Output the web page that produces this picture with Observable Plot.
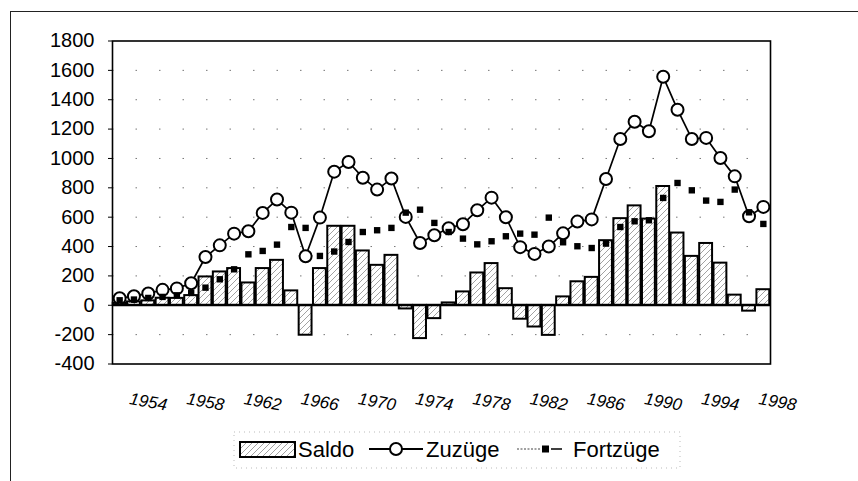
<!DOCTYPE html>
<html>
<head>
<meta charset="utf-8">
<script src="https://cdn.jsdelivr.net/npm/d3@7"></script>
<script src="https://cdn.jsdelivr.net/npm/@observablehq/plot@0.6"></script>
<style>
  html, body { margin: 0; padding: 0; background: #fff; }
  #wrap { position: relative; width: 858px; height: 481px; overflow: hidden; background: #fff; font-family: "Liberation Sans", Arial, sans-serif; }
  #chart { position: absolute; left: 0; top: 0; z-index: 1; }
  #legend { position: absolute; left: 0; top: 425px; z-index: 1; }
  #borderTop { position: absolute; left: 10px; top: 11px; width: 848px; height: 0; border-top: 1.5px solid #222; z-index: 5; }
  #borderLeft { position: absolute; left: 10px; top: 11px; width: 0; height: 470px; border-left: 1.5px solid #222; z-index: 5; }
</style>
</head>
<body>
<div id="wrap">
  <div id="chart"></div>
  <div id="legend"></div>
  <div id="borderTop"></div>
  <div id="borderLeft"></div>
</div>
<script>
// Categories (years as placed on the reference's axis)
const years = [1952, 1953, 1954, 1955, 1956, 1957, 1958, 1959, 1960, 1961,
  1962, 1963, 1964, 1965, 1966, 1967, 1968, 1969, 1970, 1971,
  1972, 1973, 1974, 1975, 1976, 1977, 1978, 1979, 1980, 1981,
  1982, 1983, 1984, 1985, 1986, 1987, 1988, 1989, 1990, 1991,
  1992, 1993, 1994, 1995, 1996, 1997];

// Saldo (bars), in thousands
const saldo = [14, 23, 30, 48, 47, 66, 193, 227, 250, 152,
  250, 306, 98, -204, 250, 538, 538, 370, 272, 340,
  -25, -227, -91, 16, 91, 220, 284, 113, -95, -148,
  -205, 57, 160, 190, 440, 590, 677, 587, 809, 492,
  333, 421, 287, 69, -40, 106];

// Zuzüge (line with open circles)
const zuzuege = [48, 62, 80, 105, 115, 150, 329, 408, 488, 504,
  629, 720, 631, 334, 597, 910, 976, 869, 788, 863,
  602, 424, 477, 525, 552, 647, 733, 600, 396, 350,
  400, 490, 570, 585, 860, 1133, 1250, 1185, 1556, 1332,
  1133, 1140, 1003, 878, 606, 670];

// Fortzüge (filled squares)
const fortzuege = [34, 39, 50, 57, 68, 84, 120, 177, 245, 347,
  370, 413, 533, 527, 336, 366, 431, 499, 511, 527,
  631, 651, 561, 499, 454, 415, 436, 470, 488, 481,
  597, 429, 402, 390, 420, 533, 572, 579, 731, 833,
  783, 713, 704, 788, 633, 554];

// Tick labels
const xTicks = [1954, 1958, 1962, 1966, 1970, 1974, 1978, 1982, 1986, 1990, 1994, 1998];
const yTicks = [-400, -200, 0, 200, 400, 600, 800, 1000, 1200, 1400, 1600, 1800];
const gridVals = [-200, 200, 400, 600, 800, 1000, 1200, 1400, 1600];

// Legend labels
const legendLabels = ["Saldo", "Zuzüge", "Fortzüge"];

const table = years.map((year, i) => ({
  year, saldo: saldo[i], zuzuege: zuzuege[i], fortzuege: fortzuege[i]
}));

const FONT = "'Liberation Sans', Arial, Helvetica, sans-serif";

const chart = Plot.plot({
  width: 858,
  height: 425,
  marginTop: 40.5,
  marginBottom: 61.5,
  marginLeft: 112,
  marginRight: 88,
  style: { fontFamily: FONT, color: "black", background: "white", overflow: "visible" },
  x: { domain: [1951.5, 1997.5], axis: null, label: null },
  y: { domain: [-400, 1800], axis: null, label: null },
  marks: [
    Plot.ruleY(gridVals, { stroke: "#777", strokeWidth: 1, strokeDasharray: "1.5,22" }),
    Plot.rectY(table, {
      x1: d => d.year - 0.45, x2: d => d.year + 0.45,
      y1: 0, y2: "saldo",
      fill: "url(#hatch)", stroke: "black", strokeWidth: 2
    }),
    Plot.ruleY([0], { stroke: "black", strokeWidth: 2 }),
    Plot.line(table, { x: "year", y: "zuzuege", stroke: "black", strokeWidth: 1.7 }),
    Plot.dot(table, { x: "year", y: "zuzuege", r: 6, fill: "white", stroke: "black", strokeWidth: 2 }),
    Plot.dot(table, { x: "year", y: "fortzuege", symbol: "square", r: 3.6, fill: "black" }),
    Plot.frame({ stroke: "black", strokeWidth: 1.6 }),
    Plot.axisY(yTicks, {
      anchor: "left", tickSize: 4, tickPadding: 14, fontSize: 20, stroke: "black",
      tickFormat: d => String(d), label: null
    }),
    Plot.axisX(xTicks, {
      anchor: "bottom", tickSize: 0, tickPadding: 38, tickRotate: 10,
      textAnchor: "middle", fontStyle: "italic", fontSize: 17,
      tickFormat: d => String(d), label: null
    })
  ]
});

// hatch pattern for bars
d3.select(chart).insert("defs", ":first-child").html(`
  <pattern id="hatch" patternUnits="userSpaceOnUse" width="6" height="6">
    <rect width="6" height="6" fill="white"/>
    <path d="M0,6 L6,0 M-1.5,1.5 L1.5,-1.5 M4.5,7.5 L7.5,4.5" stroke="#8a8a8a" stroke-width="0.8"/>
  </pattern>`);

document.getElementById("chart").appendChild(chart);

// Legend (below the chart)
const lg = d3.select("#legend").append("svg")
  .attr("width", 858).attr("height", 56)
  .style("font-family", FONT);
lg.append("defs").html(`
  <pattern id="hatchL" patternUnits="userSpaceOnUse" width="6" height="6">
    <rect width="6" height="6" fill="white"/>
    <path d="M0,6 L6,0 M-1.5,1.5 L1.5,-1.5 M4.5,7.5 L7.5,4.5" stroke="#8a8a8a" stroke-width="0.8"/>
  </pattern>`);
const cy = 24;
lg.append("rect").attr("x", 234).attr("y", 7).attr("width", 446).attr("height", 36)
  .attr("fill", "none").attr("stroke", "#aaa").attr("stroke-width", 0.8).attr("stroke-dasharray", "1,4");
lg.append("rect").attr("x", 240).attr("y", cy - 7).attr("width", 55).attr("height", 15)
  .attr("fill", "url(#hatchL)").attr("stroke", "black").attr("stroke-width", 2);
lg.append("text").attr("x", 298).attr("y", cy + 8).attr("font-size", 22).text(legendLabels[0]);
lg.append("line").attr("x1", 369).attr("x2", 423).attr("y1", cy).attr("y2", cy)
  .attr("stroke", "black").attr("stroke-width", 2);
lg.append("circle").attr("cx", 396).attr("cy", cy).attr("r", 6)
  .attr("fill", "white").attr("stroke", "black").attr("stroke-width", 2);
lg.append("text").attr("x", 426).attr("y", cy + 8).attr("font-size", 22).text(legendLabels[1]);
lg.append("line").attr("x1", 517).attr("x2", 540).attr("y1", cy).attr("y2", cy)
  .attr("stroke", "#444").attr("stroke-width", 1).attr("stroke-dasharray", "2,1.5");
lg.append("rect").attr("x", 542).attr("y", cy - 3.5).attr("width", 7).attr("height", 7).attr("fill", "black");
lg.append("line").attr("x1", 551).attr("x2", 562).attr("y1", cy).attr("y2", cy)
  .attr("stroke", "black").attr("stroke-width", 1.5);
lg.append("text").attr("x", 573).attr("y", cy + 8).attr("font-size", 22).text(legendLabels[2]);
</script>
</body>
</html>
